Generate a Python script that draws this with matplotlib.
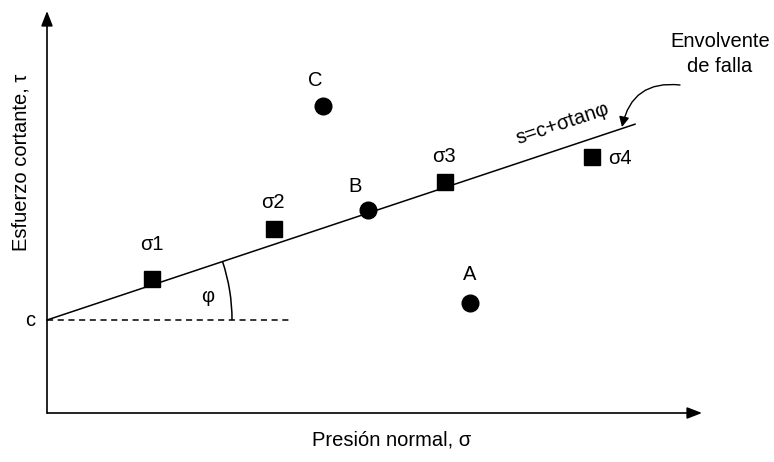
import numpy as np
import matplotlib.pyplot as plt
from matplotlib.patches import Arc

plt.rcParams['font.family'] = ['Liberation Sans', 'DejaVu Sans']

# Diagram coordinates (normal stress, shear stress), arbitrary units
c = 93
slope = 0.333
line_end = 588

squares_x = [105, 227, 398, 545]
squares_y = [134, 184, 231, 256]
square_labels = ["σ1", "σ2", "σ3", "σ4"]

circles_x = [321, 276, 423]
circles_y = [203, 307, 110]
circle_labels = ["B", "C", "A"]

fig = plt.figure(figsize=(7.74, 4.62), dpi=100)
ax = fig.add_axes([0, 0, 1, 1])
ax.set_xlim(-47, 727)
ax.set_ylim(-49, 413)
ax.set_aspect("equal")
ax.axis("off")

fs = 14.5

# axes with arrows
ax.annotate("", xy=(655, 0), xytext=(0, 0),
            arrowprops=dict(arrowstyle="-|>,head_length=0.9,head_width=0.35",
                            color="black", lw=1.2, shrinkA=0, shrinkB=0))
ax.annotate("", xy=(0, 402), xytext=(0, 0),
            arrowprops=dict(arrowstyle="-|>,head_length=0.9,head_width=0.35",
                            color="black", lw=1.2, shrinkA=0, shrinkB=0))

# failure envelope
xs = np.array([0, line_end])
ax.plot(xs, c + slope * xs, color="black", lw=1.1)
ax.plot([0, 243], [c, c], color="black", lw=1.1, ls=(0, (4, 3)))

# angle arc
phi = np.degrees(np.arctan(slope))
ax.add_patch(Arc((0, c), 2 * 185, 2 * 185, theta1=0, theta2=phi,
                 color="black", lw=1.1))
ax.text(161, 117, "φ", fontsize=fs, ha="center", va="center")

# points
ax.plot(squares_x, squares_y, "s", color="black", markersize=12)
ax.plot(circles_x, circles_y, "o", color="black", markersize=12)

sq_offsets = [(0, 35), (-1, 26), (-1, 25), (28, -2)]
for x, y, lab, (dx, dy) in zip(squares_x, squares_y, square_labels, sq_offsets):
    ax.text(x + dx, y + dy, lab, fontsize=fs, ha="center", va="center")

ci_offsets = [(-13, 24), (-8, 25), (0, 28)]
for x, y, lab, (dx, dy) in zip(circles_x, circles_y, circle_labels, ci_offsets):
    ax.text(x + dx, y + dy, lab, fontsize=fs, ha="center", va="center")

ax.text(-17, c, "c", fontsize=fs, ha="center", va="center")

# equation along the line
ax.text(516, 289, "s=c+σtanφ", fontsize=fs, ha="center", va="center",
        rotation=phi, rotation_mode="anchor")

ax.text(673, 359, "Envolvente\nde falla", fontsize=fs, ha="center", va="center",
        linespacing=1.35)
ax.annotate("", xy=(575, 286), xytext=(633, 328),
            arrowprops=dict(arrowstyle="-|>,head_length=0.6,head_width=0.3",
                            color="black", lw=1.0,
                            connectionstyle="arc3,rad=0.45",
                            shrinkA=0, shrinkB=0))

ax.text(345, -27, "Presión normal, σ", fontsize=fs, ha="center", va="center")
ax.text(-26, 251, "Esfuerzo cortante, τ", fontsize=fs, ha="center", va="center",
        rotation=90)

plt.savefig("out.png", dpi=100)
